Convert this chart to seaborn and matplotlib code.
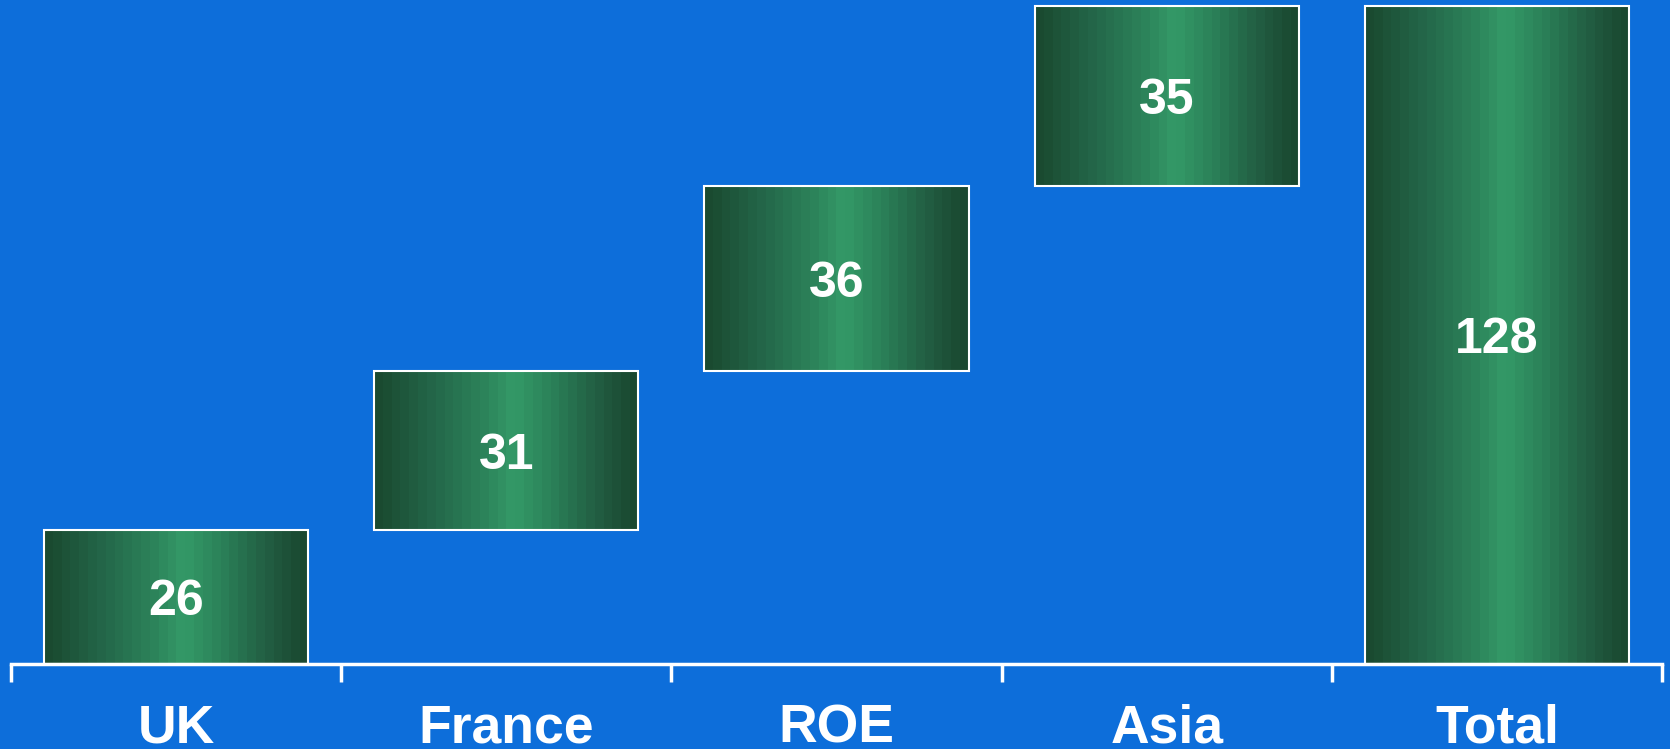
import numpy as np
import pandas as pd
import matplotlib
matplotlib.use("Agg")
import matplotlib.pyplot as plt
from matplotlib.colors import LinearSegmentedColormap
import seaborn as sns

categories = ["UK", "France", "ROE", "Asia", "Total"]
values = [26, 31, 36, 35, 128]
is_total = [False, False, False, False, True]

# waterfall bases
bases = []
run = 0
for v, t in zip(values, is_total):
    if t:
        bases.append(0)
    else:
        bases.append(run)
        run += v
tops = [b + v for b, v in zip(bases, values)]

bg = "#0D6EDA"
sns.set_theme(style="white")
plt.rcParams["font.family"] = ["Liberation Sans", "DejaVu Sans"]

fig = plt.figure(figsize=(16.7, 7.49), dpi=100, facecolor=bg)
ax = fig.add_axes([11 / 1670, 85 / 749, (1662 - 11) / 1670, 664 / 749])
ax.set_facecolor(bg)

df = pd.DataFrame({"cat": categories, "top": tops})
sns.barplot(data=df, x="cat", y="top", order=categories, ax=ax,
            facecolor="none", edgecolor="white", linewidth=1.5, width=0.8)

cmap = LinearSegmentedColormap.from_list(
    "grn", [(0.0, "#1A4A30"), (0.2, "#236548"), (0.4, "#2C8159"),
            (0.53, "#349A68"), (0.7, "#2A7D56"), (0.85, "#225E43"), (1.0, "#1A4830")])
grad = np.linspace(0, 1, 30).reshape(1, -1)

for patch, b, v in zip(ax.patches, bases, values):
    patch.set_y(b)
    patch.set_height(v)
    patch.set_zorder(3)
    x0 = patch.get_x()
    w = patch.get_width()
    ax.imshow(grad, extent=(x0, x0 + w, b, b + v), aspect="auto", cmap=cmap,
              interpolation="nearest", zorder=2)
    ax.text(x0 + w / 2, b + v / 2, f"{v}", ha="center", va="center_baseline",
            color="white", fontsize=36, fontweight="bold", zorder=4)

ax.set_xlim(-0.5, len(categories) - 0.5)
ax.set_ylim(0, 129.2)
ax.set_yticks([])
ax.set_xlabel("")
ax.set_ylabel("")
for s in ["top", "left", "right"]:
    ax.spines[s].set_visible(False)
ax.spines["bottom"].set_color("white")
ax.spines["bottom"].set_linewidth(2.5)

ax.set_xticks(range(len(categories)))
ax.set_xticklabels(categories, fontsize=38.5, fontweight="bold", color="white")
ax.tick_params(axis="x", which="major", length=0, pad=28.5)
ax.set_xticks(np.arange(-0.5, len(categories), 1), minor=True)
ax.tick_params(axis="x", which="minor", length=13, width=2.5, color="white",
               direction="out", bottom=True)

fig.savefig("out.png", dpi=100, facecolor=bg)
